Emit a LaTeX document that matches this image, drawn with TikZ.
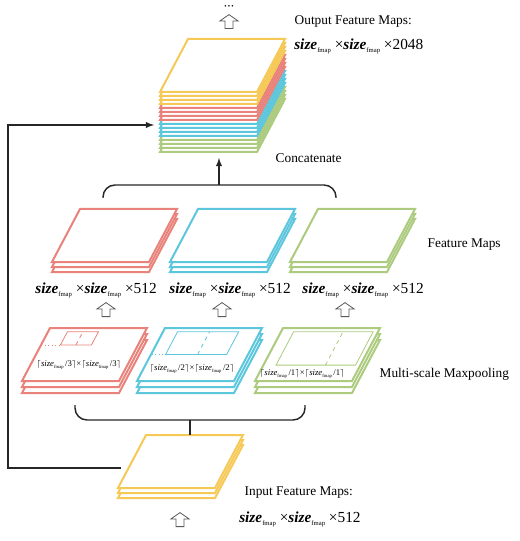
\documentclass[tikz,border=0pt]{standalone}
\usepackage{fontspec}
\setmainfont{Liberation Serif}
\usetikzlibrary{shapes.arrows}

\definecolor{mapyellow}{RGB}{246,201,86}
\definecolor{mapred}{RGB}{232,130,122}
\definecolor{mapblue}{RGB}{92,198,220}
\definecolor{mapgreen}{RGB}{172,203,126}

\newcommand\sizef{\textbf{\textit{size}}\raisebox{-0.45ex}{\fontsize{5}{6}\selectfont fmap}}
\newcommand\sizep{\textit{size}\raisebox{-0.45ex}{\fontsize{3.5}{4}\selectfont fmap}}

% stack of maps: corner of top face, colour, last layer, layer gap
\newcommand\mapstack[5]{%
  \foreach \k in {#4,...,0}
    \draw[maplayer,draw=#3] (#1,#2+\k*#5) -- ++(97,0) -- ++(28,-53) -- ++(-97,0) -- cycle;
}

\begin{document}
\begin{tikzpicture}[x=0.75pt,y=-0.75pt,
    maplayer/.style={fill=white,line width=1.5pt},
    window/.style={line width=0.6pt},
    link/.style={line width=1.1pt,black!85},
    hollowup/.style={single arrow,draw=black!65,line width=0.6pt,rotate=90,
      inner sep=2.7pt,minimum height=10.5pt,single arrow head extend=3.8pt,
      single arrow tip angle=110},
    sizelabel/.style={font=\fontsize{11.5}{13}\selectfont,inner sep=0pt},
    poollabel/.style={font=\fontsize{6.5}{7}\selectfont,inner sep=0pt},
    onface/.style 2 args={shift={(#1,#2)},y={(28,-53)},x={(97,0)}}]

  \useasboundingbox (0,0) rectangle (519,541);

  % output
  \mapstack{160}{140}{mapgreen}{3}{4}
  \mapstack{160}{124}{mapblue}{3}{4}
  \mapstack{160}{108}{mapred}{3}{4}
  \mapstack{160}{92}{mapyellow}{3}{4}

  % feature maps
  \mapstack{52}{262}{mapred}{2}{5}
  \mapstack{170}{262}{mapblue}{2}{5}
  \mapstack{290}{262}{mapgreen}{2}{5}

  % pooling
  \mapstack{22}{381}{mapred}{2}{6}
  \mapstack{137}{381}{mapblue}{2}{6}
  \mapstack{255}{381}{mapgreen}{2}{6}

  % input
  \mapstack{118}{488}{mapyellow}{2}{5}

  \begin{scope}[onface={22}{381}]
    \draw[window,draw=mapred] (0.2,0.68) -- (0.52,0.68) -- (0.52,0.93) -- (0.2,0.93) -- cycle;
    \draw[window,draw=mapred,dotted] (0.04,0.68) -- (0.2,0.68);
    \draw[window,draw=mapred,dashed] (0.36,0.68) -- (0.36,0.93);
    \node[poollabel] (pool3) at (0.5,0.3) {$\lceil$\sizep\,/3$\rceil$×$\lceil$\sizep\,/3$\rceil$};
  \end{scope}
  \begin{scope}[onface={137}{381}]
    \draw[window,draw=mapblue] (0.15,0.5) -- (0.78,0.5) -- (0.78,0.93) -- (0.15,0.93) -- cycle;
    \draw[window,draw=mapblue,dotted] (0.01,0.5) -- (0.15,0.5);
    \draw[window,draw=mapblue,dashed] (0.48,0.5) -- (0.48,0.93);
    \node[poollabel] (pool2) at (0.5,0.23) {$\lceil$\sizep\,/2$\rceil$×$\lceil$\sizep\,/2$\rceil$};
  \end{scope}
  \begin{scope}[onface={255}{381}]
    \draw[window,draw=mapgreen] (0.13,0.3) -- (0.95,0.3) -- (0.95,0.93) -- (0.13,0.93) -- cycle;
    \draw[window,draw=mapgreen,dashed] (0.64,0.3) -- (0.64,0.93);
    \node[poollabel] (pool1) at (0.45,0.13) {$\lceil$\sizep\,/1$\rceil$×$\lceil$\sizep\,/1$\rceil$};
  \end{scope}

  \node[inner sep=0pt] (dots) at (229,7) {\fontsize{5}{5}\selectfont •\,•\,•};
  \node[hollowup] (upout) at (229,23) {};
  \node[hollowup] (up3) at (106,311) {};
  \node[hollowup] (up2) at (222,311) {};
  \node[hollowup] (up1) at (345,311) {};
  \node[hollowup] (upin) at (180,521) {};

  \node[anchor=west] (outtitle) at (290,22) {Output Feature Maps:};
  \node[anchor=west,sizelabel] (outsize) at (294,46) {\sizef\ ×\sizef\ ×2048};
  \node[anchor=west] (concat) at (271,158) {Concatenate};
  \node[anchor=west] (fmtitle) at (423,245) {Feature Maps};
  \node[sizelabel] (size3) at (96,290) {\sizef\ ×\sizef\ ×512};
  \node[sizelabel] (size2) at (230,290) {\sizef\ ×\sizef\ ×512};
  \node[sizelabel] (size1) at (363,290) {\sizef\ ×\sizef\ ×512};
  \node[anchor=west] (mptitle) at (375,374) {Multi-scale Maxpooling};
  \node[anchor=west] (intitle) at (240,493) {Input Feature Maps:};
  \node[anchor=west,sizelabel] (insize) at (239,519) {\sizef\ ×\sizef\ ×512};

  \coordinate (loopstart) at (121,468);
  \coordinate (loopcorner) at (8,125);
  \coordinate (loopend) at (154,125);
  \coordinate (ubl) at (103,198);
  \coordinate (ubmid) at (219,185);
  \coordinate (ubr) at (336,198);
  \coordinate (concattip) at (219,158);
  \coordinate (lbl) at (75,405);
  \coordinate (lbmid) at (190,420);
  \coordinate (lbr) at (305,405);
  \coordinate (intop) at (190,435);

  \draw[link,-latex] (loopstart) -| (loopcorner) -- (loopend);
  \draw[link,rounded corners=9pt] (ubl) |- (ubmid) -| (ubr);
  \draw[link,-latex] (ubmid) -- (concattip);
  \draw[link,rounded corners=9pt] (lbl) |- (lbmid) -| (lbr);
  \draw[link] (lbmid) -- (intop);

\end{tikzpicture}
\end{document}
